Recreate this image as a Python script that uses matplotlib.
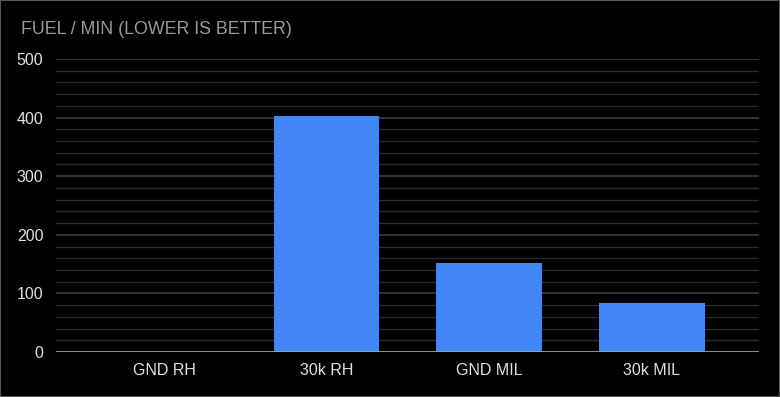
import matplotlib
matplotlib.use("Agg")
import matplotlib.pyplot as plt
from matplotlib.patches import Rectangle
from matplotlib.ticker import MultipleLocator

plt.rcParams["font.family"] = ["Liberation Sans", "DejaVu Sans"]

categories = ["GND RH", "30k RH", "GND MIL", "30k MIL"]
fuel_per_min = [0, 403, 152, 84]

fig = plt.figure(figsize=(7.8, 3.97), dpi=100, facecolor="black")
ax = fig.add_axes([56 / 780, 1 - 352 / 397, (759 - 56) / 780, (352 - 59) / 397])
ax.set_facecolor("black")

x = range(len(categories))
ax.bar(x, fuel_per_min, width=0.65, color="#4285f4", zorder=3)

ax.set_xlim(-0.665, 3.66)
ax.set_ylim(0, 500)
ax.yaxis.set_major_locator(MultipleLocator(100))
ax.yaxis.set_minor_locator(MultipleLocator(20))
ax.grid(True, which="major", axis="y", color="#3c3c3c", linewidth=1.2, zorder=0)
ax.grid(True, which="minor", axis="y", color="#2a2a2a", linewidth=1.0, zorder=0)
ax.axhline(0, color="#a0a0a0", linewidth=1.2, zorder=4)

ax.set_xticks(list(x))
ax.set_xticklabels(categories)
ax.tick_params(axis="both", which="both", length=0, colors="#e0e0e0", labelsize=11.5)
ax.tick_params(axis="x", pad=8)
ax.tick_params(axis="y", pad=9)
for spine in ax.spines.values():
    spine.set_visible(False)

fig.text(21 / 780, 1 - 29 / 397, "FUEL / MIN (LOWER IS BETTER)", color="#9a9a9a",
         fontsize=12.8, va="center", ha="left")

fig.patches.append(Rectangle((0, 0), 1, 1, transform=fig.transFigure, fill=False,
                             edgecolor="#555555", linewidth=1.5))

fig.savefig("out.png", dpi=100, facecolor="black")
